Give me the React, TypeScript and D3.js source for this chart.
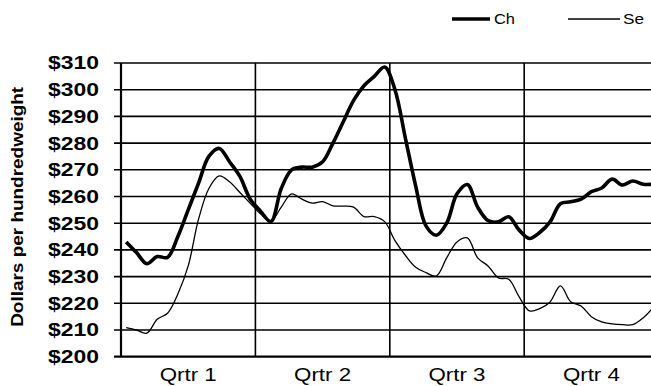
import React from "react";
import * as d3 from "d3";

const quarters = ["Qrtr 1", "Qrtr 2", "Qrtr 3", "Qrtr 4"];
const yTicks = [200, 210, 220, 230, 240, 250, 260, 270, 280, 290, 300, 310];
const seriesNames = ["Ch", "Se"];

const chValues = [
  243, 239, 234.8, 237.5, 237.2, 245, 255, 265, 275, 278, 273, 267.5, 259,
  254.5, 250.6, 263, 270, 271, 271, 273, 280, 288, 296, 301.5, 305, 308.5,
  300, 282, 264, 249, 245.5, 250, 261, 264.5, 256, 251, 250.5, 252.4, 247.5,
  244.3, 246.5, 250.5, 257.3, 258, 259, 261.8, 263.2, 266.5, 264.3, 265.8, 264.6, 264.6,
];

const seValues = [
  210.9, 210, 208.8, 214, 216.3, 223.5, 234, 251.5, 263, 267.7, 265.5, 261.5, 257.5,
  253.5, 250.8, 256, 261, 259, 257.5, 258.1, 256.5, 256.4, 256, 252.5, 252.5, 250.6,
  243.5, 238, 233.5, 231.5, 230.2, 237, 243, 244.5, 237, 234, 229.5, 229, 222.5,
  217.2, 218, 220.5, 226.5, 220.6, 219, 215, 213, 212.3, 212, 212, 214.5, 218.5,
];

const W = 651;
const H = 386;
const left = 121;
const right = 121 + 4 * 134.4;
const top = 63;
const bottom = 356.7;
const font = "'Liberation Sans', Arial, sans-serif";

export default function App() {
  const n = chValues.length;
  const x = d3.scaleBand<number>().domain(d3.range(n)).range([left, right]);
  const xq = d3.scaleBand<string>().domain(quarters).range([left, right]);
  const y = d3.scaleLinear().domain([200, 310]).range([bottom, top]);
  const cx = (i: number) => (x(i) as number) + x.bandwidth() / 2;

  const line = d3
    .line<number>()
    .x((_, i) => cx(i))
    .y((d) => y(d))
    .curve(d3.curveCatmullRom.alpha(0.5));

  return (
    <svg
      width={W}
      height={H}
      style={{ position: "absolute", left: 0, top: 0, background: "#fff" }}
      fontFamily={font}
    >
      {/* horizontal gridlines */}
      {yTicks.map((t) => (
        <line
          key={"g" + t}
          x1={left - 7}
          x2={right}
          y1={y(t)}
          y2={y(t)}
          stroke="#000"
          strokeWidth={t === 200 ? 2.2 : 1.6}
        />
      ))}
      {/* vertical dividers */}
      {quarters.map((q, i) => (
        <line
          key={"v" + q}
          x1={xq(q) as number}
          x2={xq(q) as number}
          y1={top}
          y2={bottom}
          stroke="#000"
          strokeWidth={i === 0 ? 2.2 : 1.6}
        />
      ))}
      {/* y tick labels */}
      {yTicks.map((t) => (
        <text
          key={"t" + t}
          x={99}
          y={y(t)}
          dy="0.36em"
          textAnchor="end"
          fontSize={18}
          fontWeight="bold"
          textLength={51}
          lengthAdjust="spacingAndGlyphs"
        >
          {"$" + t}
        </text>
      ))}
      {/* y title */}
      <text
        transform={`translate(23,${(top + bottom) / 2 - 3}) rotate(-90)`}
        textAnchor="middle"
        fontSize={16}
        fontWeight="bold"
        textLength={240}
        lengthAdjust="spacingAndGlyphs"
      >
        Dollars per hundredweight
      </text>
      {/* x labels */}
      {quarters.map((q) => (
        <text
          key={"q" + q}
          x={(xq(q) as number) + xq.bandwidth() / 2}
          y={381}
          textAnchor="middle"
          fontSize={18}
          textLength={57}
          lengthAdjust="spacingAndGlyphs"
        >
          {q}
        </text>
      ))}
      {/* series */}
      <path d={line(seValues) || ""} fill="none" stroke="#000" strokeWidth={1.3} />
      <path d={line(chValues) || ""} fill="none" stroke="#000" strokeWidth={3.6} strokeLinejoin="round" />
      {/* legend */}
      <line x1={452} x2={490} y1={19} y2={19} stroke="#000" strokeWidth={3.6} />
      <text x={494} y={24} fontSize={14} textLength={21} lengthAdjust="spacingAndGlyphs">
        {seriesNames[0]}
      </text>
      <line x1={568} x2={620} y1={19} y2={19} stroke="#000" strokeWidth={1.3} />
      <text x={623} y={24} fontSize={14} textLength={21} lengthAdjust="spacingAndGlyphs">
        {seriesNames[1]}
      </text>
    </svg>
  );
}
